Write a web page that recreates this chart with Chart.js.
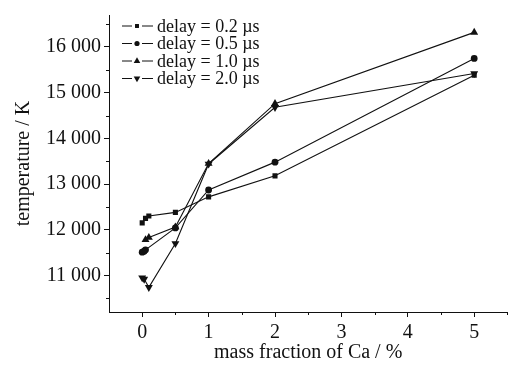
<!DOCTYPE html>
<html>
<head>
<meta charset="utf-8">
<script src="https://cdn.jsdelivr.net/npm/chart.js@4/dist/chart.umd.min.js"></script>
<style>
  html, body { margin: 0; padding: 0; background: #fff; }
  #wrap { width: 512px; height: 365px; }
</style>
</head>
<body>
<div id="wrap"><canvas id="tempchart"></canvas></div>
<script>
// mass fraction of Ca (%) and temperature (K) per delay
const xDelay02 = [0, 0.05, 0.1, 0.5, 1, 2, 5];
const tDelay02 = [12150, 12250, 12300, 12380, 12720, 13180, 15380];
const xDelay05 = [0, 0.03, 0.05, 0.5, 1, 2, 5];
const tDelay05 = [11510, 11530, 11560, 12040, 12870, 13480, 15750];
const xDelay10 = [0.05, 0.1, 0.5, 1, 2, 5];
const tDelay10 = [11780, 11830, 12060, 13450, 14760, 16320];
const xDelay20 = [0, 0.03, 0.1, 0.5, 1, 2, 5];
const tDelay20 = [10950, 10920, 10740, 11700, 13440, 14680, 15420];

const seriesNames = ['delay = 0.2 \u00b5s', 'delay = 0.5 \u00b5s', 'delay = 1.0 \u00b5s', 'delay = 2.0 \u00b5s'];
const yTicks = [11000, 12000, 13000, 14000, 15000, 16000];
const xTicks = [0, 1, 2, 3, 4, 5];

const serif = "'Liberation Serif', 'DejaVu Serif', serif";
const ink = '#111';

function pts(xs, ys) {
    return xs.map((x, i) => ({ x: x, y: ys[i] }));
}

const markers = [
    { pointStyle: 'rect', radius: 3.6, rotation: 0 },
    { pointStyle: 'circle', radius: 3.4, rotation: 0 },
    { pointStyle: 'triangle', radius: 4.6, rotation: 0 },
    { pointStyle: 'triangle', radius: 4.6, rotation: 180 },
];

const series = [
    pts(xDelay02, tDelay02),
    pts(xDelay05, tDelay05),
    pts(xDelay10, tDelay10),
    pts(xDelay20, tDelay20),
];

const datasets = series.map((d, i) => ({
    label: seriesNames[i],
    data: d,
    borderColor: ink,
    backgroundColor: ink,
    borderWidth: 1.1,
    pointStyle: markers[i].pointStyle,
    pointRadius: markers[i].radius,
    pointRotation: markers[i].rotation,
    pointBorderWidth: 0,
    pointBackgroundColor: ink,
    tension: 0,
}));

// legend drawn inside the plot, "-■-" style
const innerLegend = {
    id: 'innerLegend',
    afterDraw(chart) {
        const ctx = chart.ctx;
        const a = chart.chartArea;
        ctx.save();
        ctx.font = '18px ' + serif;
        ctx.textBaseline = 'middle';
        for (let i = 0; i < seriesNames.length; i++) {
            const y = a.top + 11 + i * 17.5;
            const x0 = a.left + 13;
            ctx.strokeStyle = ink;
            ctx.lineWidth = 1;
            ctx.beginPath();
            ctx.moveTo(x0, y); ctx.lineTo(x0 + 10, y);
            ctx.moveTo(x0 + 20, y); ctx.lineTo(x0 + 31, y);
            ctx.stroke();
            ctx.fillStyle = ink;
            Chart.helpers.drawPoint(ctx, {
                pointStyle: markers[i].pointStyle,
                radius: markers[i].radius - 0.8,
                rotation: markers[i].rotation,
                borderWidth: 0,
            }, x0 + 15, y);
            ctx.fillStyle = ink;
            ctx.fillText(seriesNames[i], x0 + 35, y + 1);
        }
        ctx.restore();
    }
};

// short minor ticks between the labelled ones
const minorTicks = {
    id: 'minorTicks',
    afterDraw(chart) {
        const ctx = chart.ctx;
        const xs = chart.scales.x, ys = chart.scales.y;
        ctx.save();
        ctx.strokeStyle = ink;
        ctx.lineWidth = 1;
        ctx.beginPath();
        for (let v = 10500; v <= 16500; v += 1000) {
            const p = Math.round(ys.getPixelForValue(v)) + 0.5;
            ctx.moveTo(xs.left - 3, p); ctx.lineTo(xs.left, p);
        }
        for (let v = 0.5; v <= 5.5; v += 1) {
            const p = Math.round(xs.getPixelForValue(v)) + 0.5;
            ctx.moveTo(p, ys.bottom); ctx.lineTo(p, ys.bottom + 3);
        }
        ctx.stroke();
        ctx.restore();
    }
};

const config = {
    type: 'line',
    data: { datasets: datasets },
    options: {
        responsive: true,
        maintainAspectRatio: false,
        animation: false,
        layout: { padding: { left: 0, right: 1, top: 10, bottom: 0 } },
        plugins: {
            legend: { display: false },
            tooltip: { enabled: false },
        },
        scales: {
            x: {
                type: 'linear',
                min: -0.5,
                max: 5.5,
                afterBuildTicks: s => { s.ticks = xTicks.map(v => ({ value: v })); },
                afterFit: s => { s.height = 53; },
                grid: { drawOnChartArea: false, color: ink, tickLength: 5 },
                border: { color: ink, width: 1 },
                ticks: { color: ink, font: { family: serif, size: 20 }, padding: 4 },
                title: {
                    display: true,
                    text: 'mass fraction of Ca / %',
                    color: ink,
                    font: { family: serif, size: 20 },
                    padding: { top: 0, bottom: 0 },
                },
            },
            y: {
                min: 10200,
                max: 16700,
                afterBuildTicks: s => { s.ticks = yTicks.map(v => ({ value: v })); },
                afterFit: s => { s.width = 109; },
                grid: { drawOnChartArea: false, color: ink, tickLength: 5 },
                border: { color: ink, width: 1 },
                ticks: {
                    color: ink,
                    font: { family: serif, size: 20 },
                    padding: 3,
                    callback: v => String(v).replace(/\B(?=(\d{3})+(?!\d))/g, ' '),
                },
                title: {
                    display: true,
                    text: 'temperature / K',
                    color: ink,
                    font: { family: serif, size: 20 },
                    padding: { top: 12, bottom: 0 },
                },
            },
        },
    },
    plugins: [innerLegend, minorTicks],
};

const tempchart = new Chart(document.getElementById('tempchart'), config);
</script>
</body>
</html>
